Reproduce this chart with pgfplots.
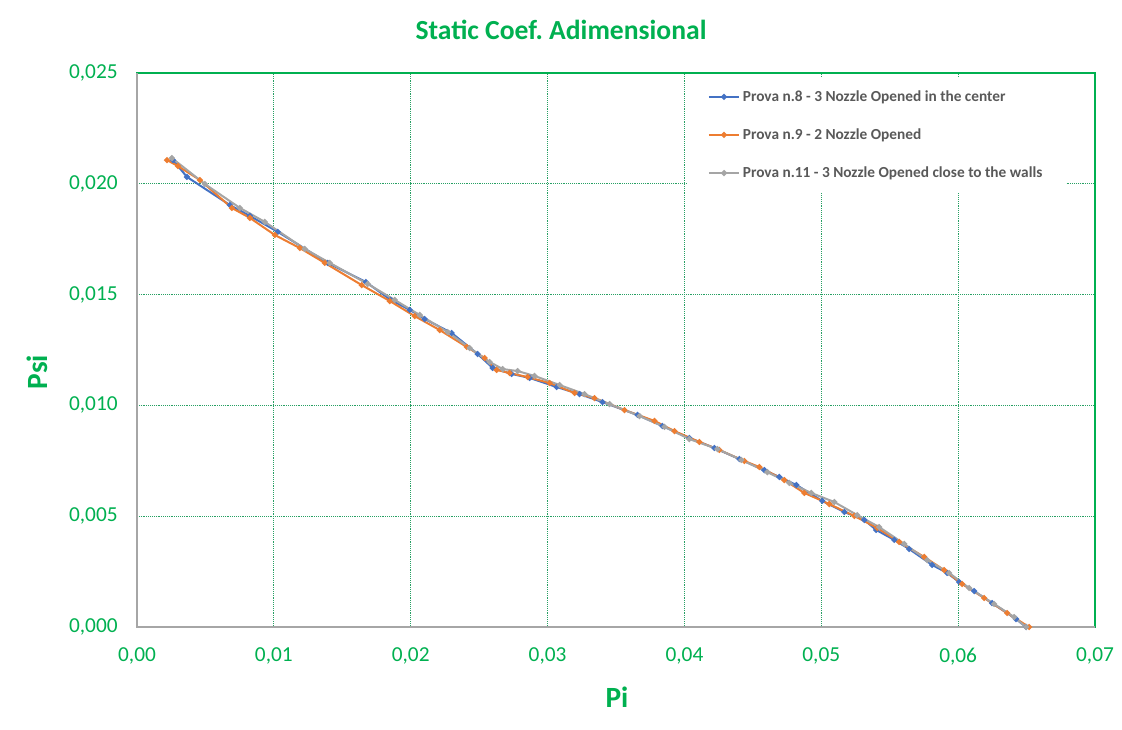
\documentclass[border=0pt]{standalone}
\usepackage{pgfplots}
\pgfplotsset{compat=1.18}
\usepackage{fontspec}
\setmainfont{Carlito}
\frenchspacing
\definecolor{xlgreen}{RGB}{0,176,80}
\definecolor{gridgreen}{RGB}{40,160,100}
\definecolor{axgray}{RGB}{166,166,166}
\definecolor{sblue}{RGB}{68,114,196}
\definecolor{sorange}{RGB}{237,125,49}
\definecolor{sgray}{RGB}{165,165,165}
\definecolor{legtext}{RGB}{89,89,89}
\begin{document}
\begin{tikzpicture}
\begin{axis}[
  scale only axis,
  width=718.5pt, height=415.5pt,
  xmin=0, xmax=0.07, ymin=0, ymax=0.025,
  xtick={0,0.01,0.02,0.03,0.04,0.05,0.06,0.07}, ytick={0,0.005,0.01,0.015,0.02,0.025},
  scaled ticks=false,
  xticklabel style={/pgf/number format/fixed,/pgf/number format/fixed zerofill,/pgf/number format/precision=2,/pgf/number format/use comma,/pgf/number format/assume math mode=true, yshift=-12pt},
  yticklabel style={/pgf/number format/fixed,/pgf/number format/fixed zerofill,/pgf/number format/precision=3,/pgf/number format/use comma,/pgf/number format/assume math mode=true, xshift=-11pt},
  tick label style={font=\fontsize{16}{18}\selectfont, text=xlgreen},
  major tick length=0pt,
  xtick pos=bottom, ytick pos=left,
  grid=major,
  major grid style={gridgreen, densely dotted, line width=0.8pt},
  axis line style={xlgreen, line width=0.8pt},
  title={Static Coef. Adimensional},
  title style={at={(axis description cs:0.4426,1.0625)}, anchor=center, font=\bfseries\fontsize{20.7}{24}\selectfont, text=xlgreen},
  xlabel={Pi},
  xlabel style={at={(axis description cs:0.501,-0.126)}, anchor=center, font=\bfseries\fontsize{22}{26}\selectfont, text=xlgreen},
  ylabel={Psi},
  ylabel style={at={(axis description cs:-0.1044,0.46)}, anchor=center, rotate=0, font=\bfseries\fontsize{22}{26}\selectfont, text=xlgreen},
  legend cell align=left,
  legend style={at={(axis description cs:0.574,0.993)}, anchor=north west, draw=none, fill=white,
    font=\bfseries\fontsize{11.5}{13.5}\selectfont, text=legtext, row sep=15pt,
    inner xsep=15.5pt, inner ysep=8pt},
  legend image code/.code={\draw[mark repeat=2,mark phase=2] plot coordinates {(0cm,0cm)(0.4cm,0cm)(0.8cm,0cm)};},
  every axis plot/.append style={line width=1.5pt, mark=*, mark size=1.4pt},
  clip=false,
]
\addplot[sblue, mark options={fill=sblue}] coordinates {
(0.00263,0.02107)(0.00365,0.02031)(0.00679,0.01904)(0.00825,0.01855)(0.01029,0.01783)
(0.01394,0.01643)(0.01672,0.01557)(0.01854,0.01476)(0.01993,0.01431)(0.02102,0.01390)
(0.02299,0.01327)(0.02489,0.01232)(0.02599,0.01169)(0.02737,0.01142)(0.02869,0.01124)
(0.03066,0.01083)(0.03234,0.01051)(0.03401,0.01015)(0.03657,0.00957)(0.03839,0.00907)
(0.04036,0.00853)(0.04219,0.00808)(0.04401,0.00758)(0.04584,0.00708)(0.04693,0.00677)
(0.04818,0.00641)(0.05007,0.00569)(0.05168,0.00519)(0.05314,0.00483)(0.05401,0.00438)
(0.05533,0.00393)(0.05642,0.00352)(0.05810,0.00280)(0.05920,0.00244)(0.06007,0.00203)
(0.06117,0.00162)(0.06248,0.00108)(0.06423,0.00036)(0.06496,0.0)
};
\addlegendentry{Prova n.8 - 3 Nozzle Opened in the center}
\addplot[sorange, mark options={fill=sorange}] coordinates {
(0.00219,0.02107)(0.00299,0.02080)(0.00460,0.02017)(0.00693,0.01891)(0.00825,0.01846)
(0.01007,0.01769)(0.01190,0.01710)(0.01372,0.01643)(0.01642,0.01543)(0.01847,0.01471)
(0.02029,0.01403)(0.02212,0.01340)(0.02409,0.01264)(0.02540,0.01214)(0.02628,0.01160)
(0.02723,0.01146)(0.02854,0.01128)(0.03015,0.01101)(0.03197,0.01056)(0.03343,0.01033)
(0.03562,0.00979)(0.03781,0.00930)(0.03927,0.00884)(0.04109,0.00835)(0.04255,0.00799)
(0.04438,0.00749)(0.04547,0.00722)(0.04730,0.00663)(0.04876,0.00605)(0.05058,0.00555)
(0.05241,0.00501)(0.05409,0.00447)(0.05569,0.00384)(0.05752,0.00316)(0.05898,0.00257)
(0.06029,0.00194)(0.06190,0.00131)(0.06358,0.00063)(0.06518,0.0)
};
\addlegendentry{Prova n.9 - 2 Nozzle Opened}
\addplot[sgray, mark options={fill=sgray}] coordinates {
(0.00255,0.02116)(0.00496,0.01999)(0.00752,0.01891)(0.00934,0.01828)(0.01226,0.01706)
(0.01409,0.01643)(0.01686,0.01548)(0.01883,0.01476)(0.02066,0.01408)(0.02270,0.01331)
(0.02431,0.01259)(0.02577,0.01196)(0.02672,0.01164)(0.02781,0.01155)(0.02905,0.01133)
(0.03088,0.01092)(0.03270,0.01051)(0.03453,0.01006)(0.03672,0.00952)(0.03854,0.00903)
(0.04036,0.00848)(0.04241,0.00803)(0.04416,0.00754)(0.04606,0.00699)(0.04766,0.00650)
(0.04927,0.00605)(0.05095,0.00564)(0.05263,0.00505)(0.05423,0.00451)(0.05606,0.00375)
(0.05774,0.00302)(0.05934,0.00244)(0.06080,0.00176)(0.06263,0.00104)(0.06409,0.00045)
(0.06496,0.0)
};
\addlegendentry{Prova n.11 - 3 Nozzle Opened close to the walls}
\draw[axgray, line width=0.8pt] (rel axis cs:0,1) -- (rel axis cs:0,0) -- (rel axis cs:1,0);
\coordinate (bbsw) at (rel axis cs:-0.14301,-0.18592);
\coordinate (bbne) at (rel axis cs:1.02818,1.13177);
\end{axis}
\pgfresetboundingbox
\path[use as bounding box] (bbsw) rectangle (bbne);
\end{tikzpicture}
\end{document}
